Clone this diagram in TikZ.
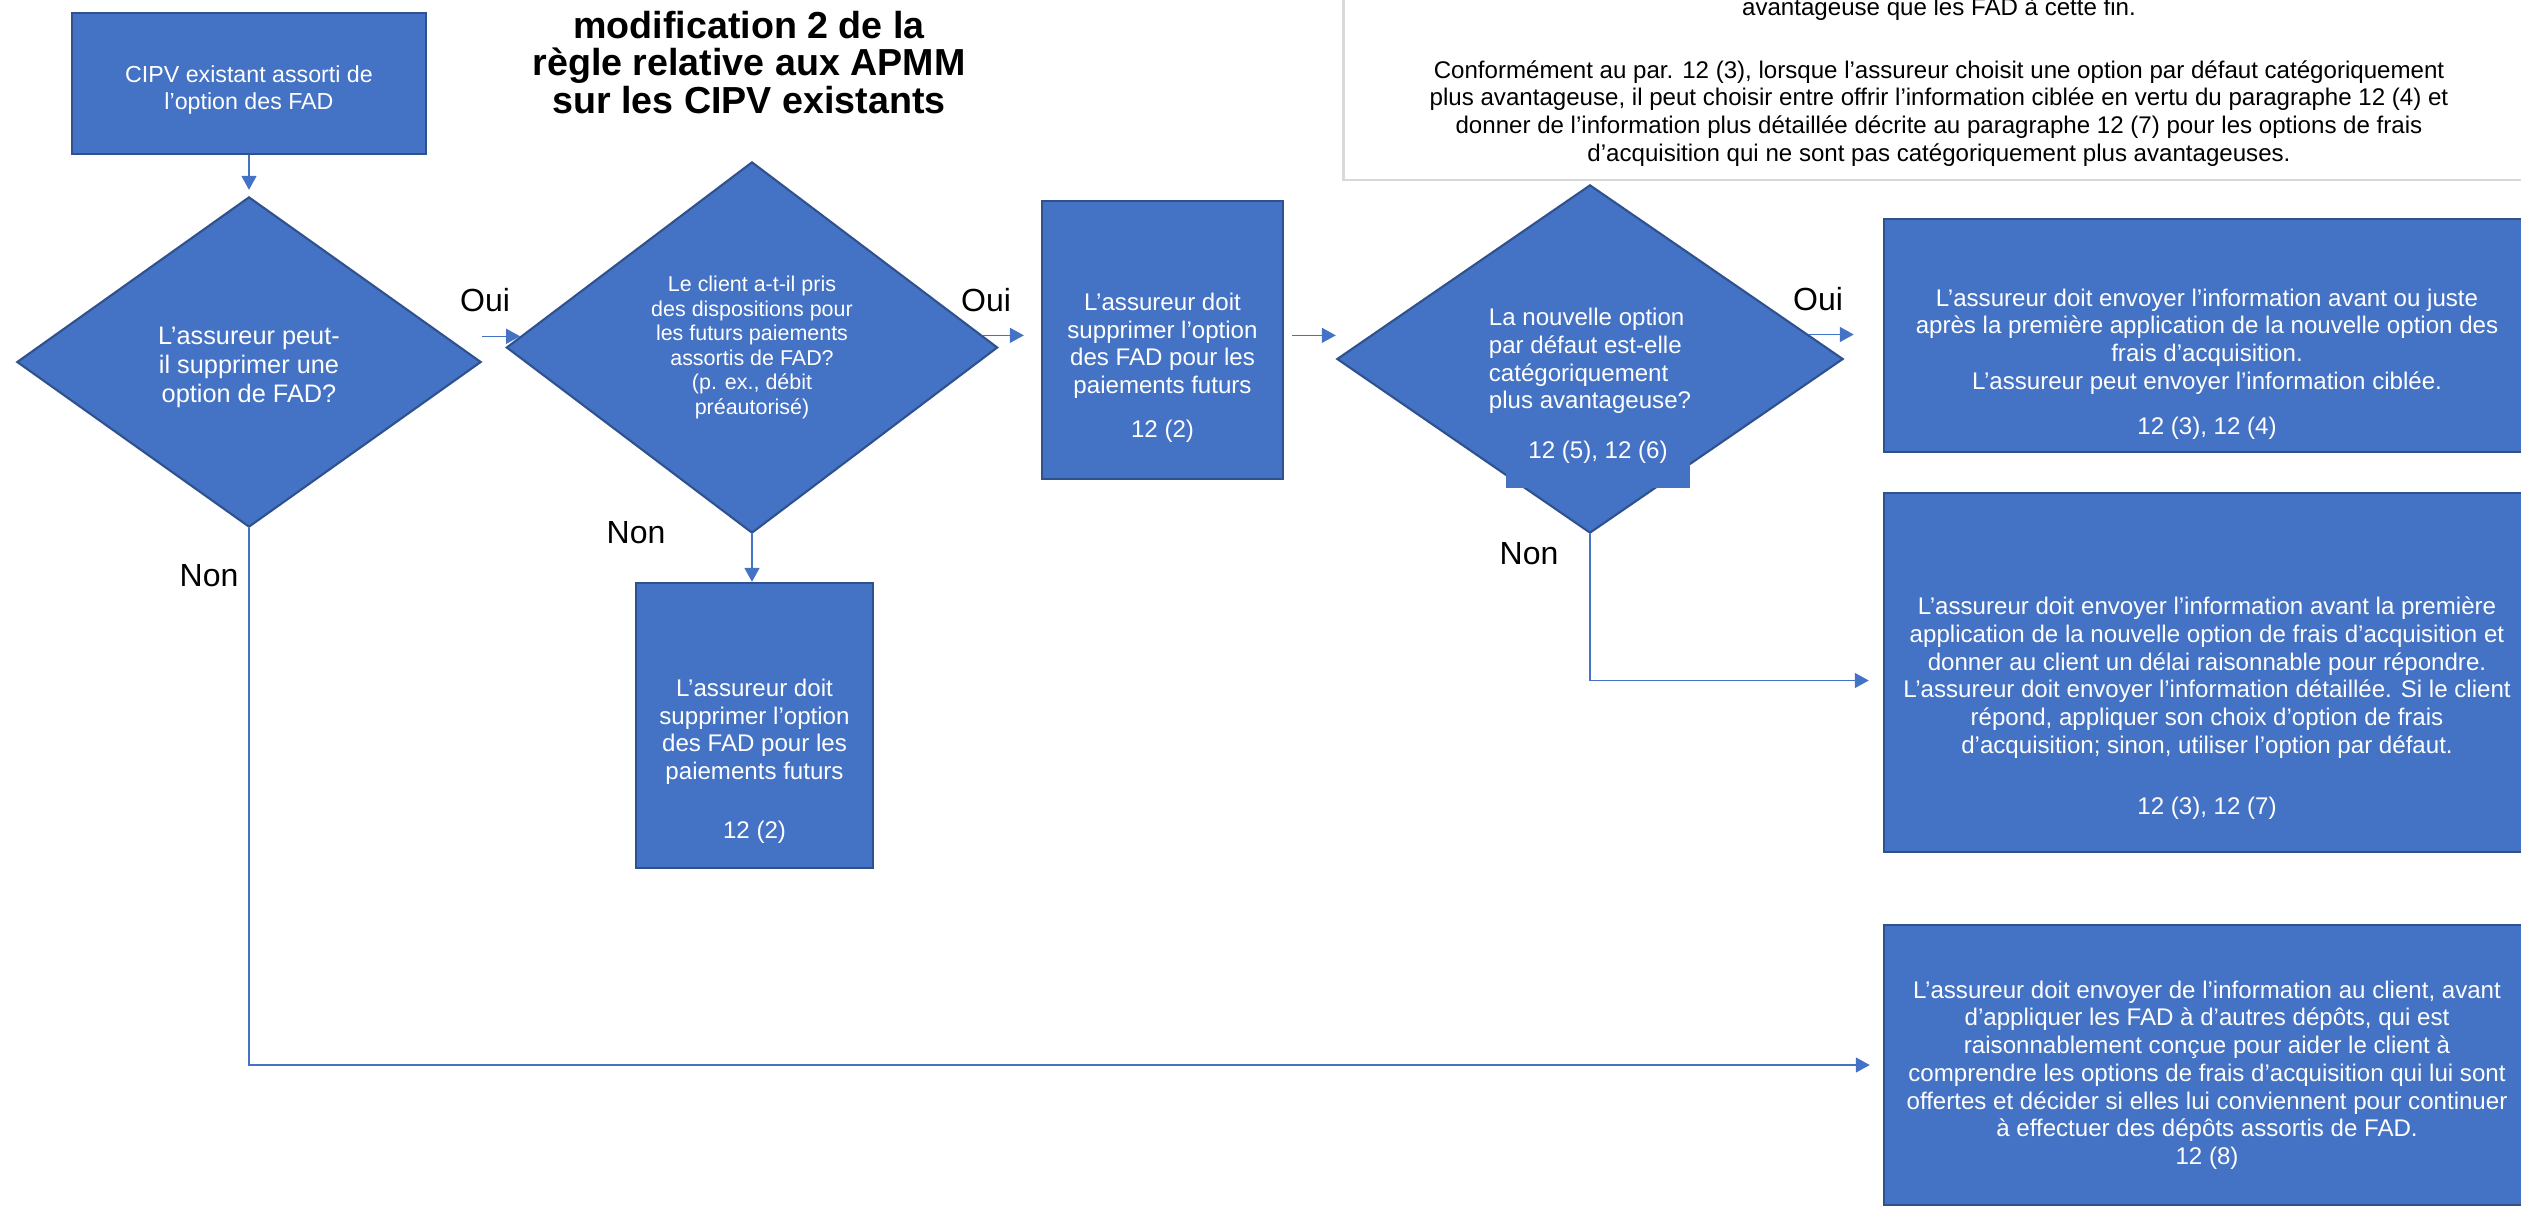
\documentclass[tikz,border=0pt]{standalone}
\usepackage{fontspec}
\setmainfont{Liberation Sans}
\usetikzlibrary{shapes.geometric,arrows.meta,calc}
\definecolor{offblue}{HTML}{4472C4}
\definecolor{offedge}{HTML}{2F528F}
\definecolor{notegray}{HTML}{D9D9D9}

\begin{document}
\begin{tikzpicture}[x=0.01cm, y=-0.01cm,
    box/.style = {draw=offedge, line width=0.6pt, fill=offblue, text=white, align=center, inner sep=0pt},
    dec/.style = {box, diamond, aspect=1.4},
    txt/.style = {font=\fontsize{6.85}{7.88}\selectfont},
    lab/.style = {font=\fontsize{9.1}{10}\selectfont},
    arr/.style = {draw=offblue, line width=0.45pt, -{Triangle[length=0.14cm, width=0.15cm]}}]
        \useasboundingbox (0,0) rectangle (2521,1209);
        \clip (0,0) rectangle (2521,1209);

        \node[draw=notegray, line width=0.75pt, fill=white, txt, align=center, inner sep=0pt, minimum width=11.9cm, minimum height=1.96cm] (11) at (1939,82) {avantageuse que les FAD à cette fin.\\[10pt]Conformément au par. 12 (3), lorsque l’assureur choisit une option par défaut catégoriquement\\plus avantageuse, il peut choisir entre offrir l’information ciblée en vertu du paragraphe 12 (4) et\\donner de l’information plus détaillée décrite au paragraphe 12 (7) pour les options de frais\\d’acquisition qui ne sont pas catégoriquement plus avantageuses.};
        \node[font=\fontsize{10.7}{10.7}\selectfont\bfseries, align=center] (0) at (749,62.5) {modification 2 de la\\règle relative aux APMM\\sur les CIPV existants};

        \node[box, font=\fontsize{6.6}{7.6}\selectfont, minimum width=3.53cm, minimum height=1.41cm] (1) at (249,83.5) {\mbox{}\\[0.8pt]CIPV existant assorti de\\l’option des FAD};
        \node[dec, font=\fontsize{7.2}{8.25}\selectfont, minimum width=4.64cm, minimum height=3.3cm] (2) at (249,362) {\mbox{}\\[-0.4pt]L’assureur peut-\\il supprimer une\\option de FAD?};
        \node[dec, font=\fontsize{6.1}{7}\selectfont, minimum width=4.91cm, minimum height=3.71cm] (3) at (752,347.5) {Le client a-t-il pris\\des dispositions pour\\les futurs paiements\\assortis de FAD?\\(p. ex., débit\\préautorisé)};
        \node[box, txt, minimum width=2.41cm, minimum height=2.78cm] (4) at (1162.5,340) {\mbox{}\\[12.8pt]L’assureur doit\\supprimer l’option\\des FAD pour les\\paiements futurs\\[4.5pt]12 (2)};
        \node[box, txt, minimum width=2.37cm, minimum height=2.85cm] (5) at (754.5,725.5) {\mbox{}\\[17.3pt]L’assureur doit\\supprimer l’option\\des FAD pour les\\paiements futurs\\[8.7pt]12 (2)};
        \node[dec, txt, minimum width=5.06cm, minimum height=3.48cm] (6) at (1590,359) {\mbox{}\\[0.5pt]\begin{tabular}{@{}l@{}}La nouvelle option\\par défaut est-elle\\catégoriquement\\plus avantageuse?\end{tabular}};
        \node[box, txt, draw=offblue, minimum width=1.82cm, minimum height=0.7cm] (10) at (1598,452) {12 (5), 12 (6)};
        \node[box, txt, minimum width=6.46cm, minimum height=2.33cm] (7) at (2207,335.5) {\mbox{}\\[13.3pt]L’assureur doit envoyer l’information avant ou juste\\après la première application de la nouvelle option des\\frais d’acquisition.\\L’assureur peut envoyer l’information ciblée.\\[5pt]12 (3), 12 (4)};
        \node[box, txt, minimum width=6.46cm, minimum height=3.59cm] (8) at (2207,672.5) {\mbox{}\\[17.6pt]L’assureur doit envoyer l’information avant la première\\application de la nouvelle option de frais d’acquisition et\\donner au client un délai raisonnable pour répondre.\\L’assureur doit envoyer l’information détaillée. Si le client\\répond, appliquer son choix d’option de frais\\d’acquisition; sinon, utiliser l’option par défaut.\\[9.6pt]12 (3), 12 (7)};
        \node[box, txt, minimum width=6.46cm, minimum height=2.8cm] (9) at (2207,1065) {\mbox{}\\[2.8pt]L’assureur doit envoyer de l’information au client, avant\\d’appliquer les FAD à d’autres dépôts, qui est\\raisonnablement conçue pour aider le client à\\comprendre les options de frais d’acquisition qui lui sont\\offertes et décider si elles lui conviennent pour continuer\\à effectuer des dépôts assortis de FAD.\\12 (8)};

        \node[lab] (y1) at (485,300) {Oui};
        \node[lab] (y2) at (986,300) {Oui};
        \node[lab] (y3) at (1818,299) {Oui};
        \node[lab] (n1) at (209,576) {Non};
        \node[lab] (n2) at (636,533) {Non};
        \node[lab] (n3) at (1529,554) {Non};

        \coordinate (a1) at ($(3.west)!.06!(3.north)$);
        \coordinate (a2) at ($(3.east)!.065!(3.north)$);
        \coordinate (a3) at ($(6.east)!.14!(6.north)$);

        \draw[arr, shorten >=0.06cm] (1) -- (2);
        \draw[arr] (2.east |- a1) -- (a1);
        \draw[arr, shorten >=0.17cm] (a2) -- (4.west |- a2);
        \draw[arr, shorten <=0.08cm] (4.east |- a2) -- (6.west |- a2);
        \draw[arr, shorten >=0.29cm] (a3) -- (7.west |- a3);
        % \draw[arr] (3) -- (5);
        \draw[arr] (3.south) -- (3.south |- 5.north);
        \draw[arr, shorten >=0.14cm] (6.south) |- ([yshift=-0.08cm]8.west);
        \draw[arr, shorten >=0.13cm] (2.south) |- (9.west);

    \end{tikzpicture}
\end{document}
